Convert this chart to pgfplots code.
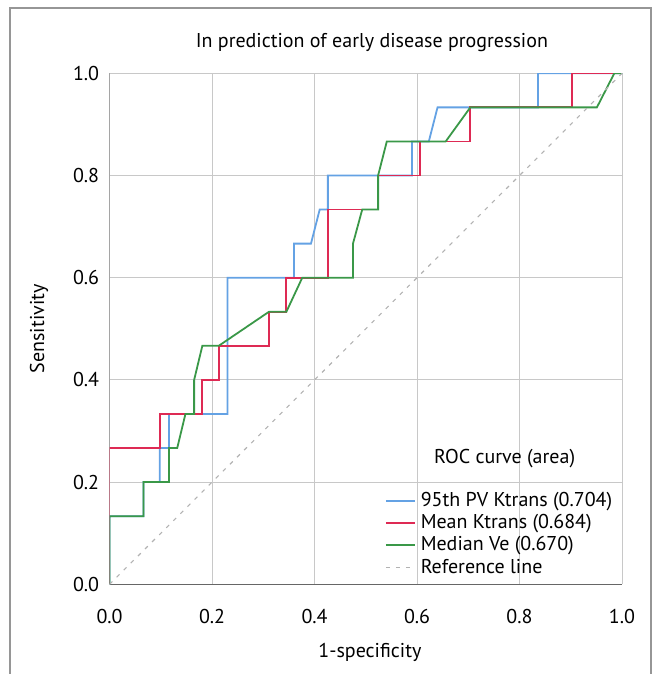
\documentclass[border=0pt]{standalone}
\usepackage{fontspec}
\setmainfont{PT Sans}
\usepackage{pgfplots}
\pgfplotsset{compat=1.18}

\definecolor{rocblue}{RGB}{100,162,228}
\definecolor{rocred}{RGB}{222,42,84}
\definecolor{rocgreen}{RGB}{58,152,72}
\definecolor{gridgray}{RGB}{200,200,200}
\definecolor{framegray}{RGB}{150,150,150}

\begin{document}
\begin{tikzpicture}
\fontsize{20}{24}\selectfont
\begin{axis}[
  scale only axis,
  width=512.4pt, height=511pt,
  xmin=0, xmax=1, ymin=0, ymax=1,
  xtick={0,0.2,...,1.0}, ytick={0,0.2,...,1.0},
  /pgf/number format/assume math mode=true,
  /pgf/number format/.cd, fixed, fixed zerofill, precision=1, /pgfplots/.cd,
  major tick length=0pt,
  grid=major,
  grid style={gridgray, line width=0.9pt},
  axis line style={draw=none},
  xticklabel style={anchor=center, yshift=-32pt, font=\fontsize{20}{24}\selectfont},
  yticklabel style={anchor=east, inner sep=0pt, xshift=-10.3pt, font=\fontsize{20}{24}\selectfont},
  xlabel={1-specificity},
  ylabel={Sensitivity},
  xlabel style={at={(0.508,0)}, anchor=center, yshift=-67.7pt, font=\fontsize{20}{24}\selectfont},
  ylabel style={at={(0,0.5)}, anchor=center, yshift=70.6pt, font=\fontsize{20}{24}\selectfont},
  title={In prediction of early disease progression},
  title style={at={(0.512,1)}, anchor=center, yshift=25pt, font=\fontsize{20}{24}\selectfont},
  legend style={at={(0.537,0.1826)}, anchor=north west, draw=none, fill=none,
    font=\fontsize{20}{24}\selectfont, row sep=3pt, inner sep=0pt,
    nodes={inner sep=1pt}, cells={anchor=west}},
  legend image code/.code={\draw[#1, line width=1.8pt] (0pt,0pt) -- (29pt,0pt); \path (33pt,0pt);},
  every axis plot/.append style={line width=1.8pt},
]
% axis lines
\draw[gray!80!black, line width=1.2pt] (rel axis cs:0,1) -- (rel axis cs:0,0) -- (rel axis cs:1,0);

\addplot[rocblue] coordinates {
  (0,0) (0,0.1333) (0.066,0.1333) (0.066,0.2) (0.098,0.2) (0.098,0.2667)
  (0.116,0.2667) (0.116,0.3333) (0.23,0.3333) (0.23,0.6) (0.36,0.6)
  (0.36,0.6667) (0.393,0.6667) (0.41,0.7333) (0.426,0.7333) (0.426,0.8)
  (0.59,0.8) (0.59,0.8667) (0.623,0.8667) (0.64,0.9333) (0.836,0.9333)
  (0.836,1) (1,1)
};
\addlegendentry{95th PV Ktrans (0.704)}

\addplot[rocred] coordinates {
  (0,0) (0,0.2667) (0.098,0.2667) (0.098,0.3333) (0.18,0.3333) (0.18,0.4)
  (0.213,0.4) (0.213,0.4667) (0.311,0.4667) (0.311,0.5333) (0.344,0.5333)
  (0.344,0.6) (0.426,0.6) (0.426,0.7333) (0.524,0.7333) (0.524,0.8)
  (0.606,0.8) (0.606,0.8667) (0.704,0.8667) (0.704,0.9333) (0.902,0.9333)
  (0.902,1) (1,1)
};
\addlegendentry{Mean Ktrans (0.684)}

\addplot[rocgreen] coordinates {
  (0,0) (0,0.1333) (0.066,0.1333) (0.066,0.2) (0.116,0.2) (0.116,0.2667)
  (0.132,0.2667) (0.148,0.3333) (0.165,0.3333) (0.165,0.4) (0.181,0.4667)
  (0.213,0.4667) (0.311,0.5333) (0.345,0.5333) (0.376,0.6) (0.475,0.6)
  (0.475,0.6667) (0.493,0.7333) (0.524,0.7333) (0.524,0.8) (0.541,0.8667)
  (0.656,0.8667) (0.704,0.9333) (0.951,0.9333) (0.985,1) (1,1)
};
\addlegendentry{Median Ve (0.670)}

\addplot[gray!60, line width=1.1pt, dash pattern=on 4pt off 6pt] coordinates {(0,0) (1,1)};
\addlegendentry{Reference line}

\node[anchor=west, font=\fontsize{20}{24}\selectfont] at (rel axis cs:0.62,0.247) {ROC curve (area)};
\end{axis}
\draw[framegray, line width=1.1pt] (-99.6pt,-89.7pt) -- (-99.6pt,576.3pt) -- (541.4pt,576.3pt) -- (541.4pt,-89.7pt);
\pgfresetboundingbox
\path[use as bounding box] (-109.6pt,-89.7pt) rectangle (547.4pt,584.3pt);
\end{tikzpicture}
\end{document}
